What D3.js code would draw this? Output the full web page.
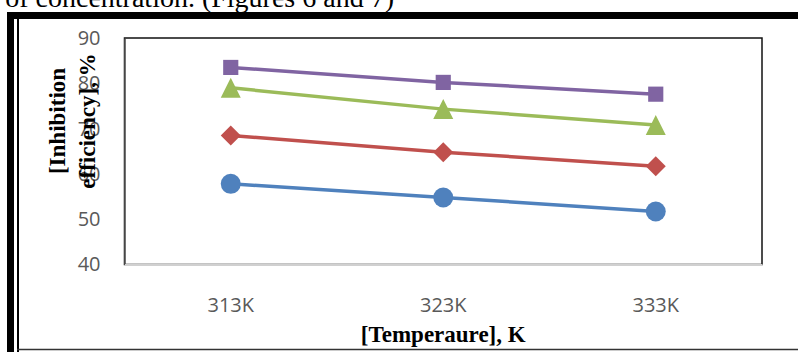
<!DOCTYPE html>
<html>
<head>
<meta charset="utf-8">
<script src="https://cdn.jsdelivr.net/npm/d3@7"></script>
<style>
  body { margin: 0; background: #fff; }
  svg { display: block; }
</style>
</head>
<body>
<svg id="chart" width="798" height="352"></svg>
<script>
// temperatures on the x axis
const temps = ["313K", "323K", "333K"];
// inhibition efficiency, one array per series (bottom to top)
const seriesCircle = [57.8, 54.8, 51.7];
const seriesDiamond = [68.5, 64.8, 61.7];
const seriesTriangle = [79.0, 74.3, 70.8];
const seriesSquare = [83.5, 80.2, 77.6];
const yTicks = [40, 50, 60, 70, 80, 90];

const svg = d3.select("#chart");

// page bits around the figure
svg.append("text")
  .attr("x", 394).attr("y", 7)
  .attr("text-anchor", "end")
  .style("font-family", "'Liberation Serif', 'Times New Roman', serif")
  .style("font-size", "28px")
  .text("of concentration. (Figures 6 and 7)");

svg.append("rect").attr("x", 7).attr("y", 12).attr("width", 791).attr("height", 7).attr("fill", "#000");
svg.append("rect").attr("x", 7).attr("y", 12).attr("width", 7).attr("height", 340).attr("fill", "#000");
svg.append("rect").attr("x", 17).attr("y", 19).attr("width", 2).attr("height", 333).attr("fill", "#000");
svg.append("line").attr("x1", 17).attr("x2", 798).attr("y1", 349.5).attr("y2", 349.5)
  .attr("stroke", "#333").attr("stroke-width", 1.5);

// plot area (no "top" here, that one is window.top)
const plotL = 124.5, plotR = 762, plotT = 38, plotB = 264.5;

var x = d3.scaleBand().domain(temps).range([plotL, plotR]);
var y = d3.scaleLinear().domain([40, 90]).range([plotB, plotT]);

svg.append("rect")
  .attr("x", plotL).attr("y", plotT)
  .attr("width", plotR - plotL).attr("height", plotB - plotT)
  .attr("fill", "none").attr("stroke", "#111").attr("stroke-width", 1.5);

// y axis
var yAxis = svg.append("g")
  .attr("transform", "translate(" + plotL + ",0)")
  .call(d3.axisLeft(y).tickValues(yTicks).tickSize(0).tickPadding(24));
yAxis.select(".domain").attr("stroke", "#595959").attr("stroke-width", 1.5);
yAxis.selectAll("text")
  .attr("fill", "#595959")
  .style("font-family", "'Open Sans', sans-serif")
  .style("font-size", "20px");

// x axis
var xAxis = svg.append("g")
  .attr("transform", "translate(0," + plotB + ")")
  .call(d3.axisBottom(x).tickSize(0).tickPadding(33));
xAxis.select(".domain").attr("stroke", "#d0d0d0").attr("stroke-width", 2);
xAxis.selectAll("text")
  .attr("fill", "#595959")
  .style("font-family", "'Open Sans', sans-serif")
  .style("font-size", "20px");

// axis titles
svg.append("text")
  .attr("x", (plotL + plotR) / 2).attr("y", 342)
  .attr("text-anchor", "middle")
  .style("font-family", "'Liberation Serif', 'Times New Roman', serif")
  .style("font-size", "23px").style("font-weight", "bold")
  .text("[Temperaure], K");

var yTitle = svg.append("text")
  .attr("transform", "translate(65,121) rotate(-90)")
  .attr("text-anchor", "middle")
  .style("font-family", "'Liberation Serif', 'Times New Roman', serif")
  .style("font-size", "23px").style("font-weight", "bold");
yTitle.append("tspan").attr("x", 0).attr("y", 0).text("[Inhibition");
yTitle.append("tspan").attr("x", 0).attr("y", 30).text("efficiency], %");

// excel-like triangle, centered on its box
const symbolTri = {
  draw: function (ctx, size) {
    var h = Math.sqrt(size) / 2;
    ctx.moveTo(0, -h);
    ctx.lineTo(h, h);
    ctx.lineTo(-h, h);
    ctx.closePath();
  }
};

const series = [
  { values: seriesCircle, color: "#4f81bd", symbol: d3.symbolCircle, size: 314, rot: 0 },
  { values: seriesDiamond, color: "#c0504d", symbol: d3.symbolSquare, size: 200, rot: 45 },
  { values: seriesTriangle, color: "#9bbb59", symbol: symbolTri, size: 400, rot: 0 },
  { values: seriesSquare, color: "#8064a2", symbol: d3.symbolSquare, size: 230, rot: 0 }
];

var cx = function (i) { return x(temps[i]) + x.bandwidth() / 2; };

var line = d3.line()
  .x(function (d, i) { return cx(i); })
  .y(function (d) { return y(d); });

series.forEach(function (s) {
  svg.append("path")
    .attr("d", line(s.values))
    .attr("fill", "none")
    .attr("stroke", s.color)
    .attr("stroke-width", 3.5);

  svg.selectAll(null)
    .data(s.values)
    .enter()
    .append("path")
    .attr("d", d3.symbol().type(s.symbol).size(s.size))
    .attr("transform", function (d, i) {
      return "translate(" + cx(i) + "," + y(d) + ") rotate(" + s.rot + ")";
    })
    .attr("fill", s.color);
});
</script>
</body>
</html>
